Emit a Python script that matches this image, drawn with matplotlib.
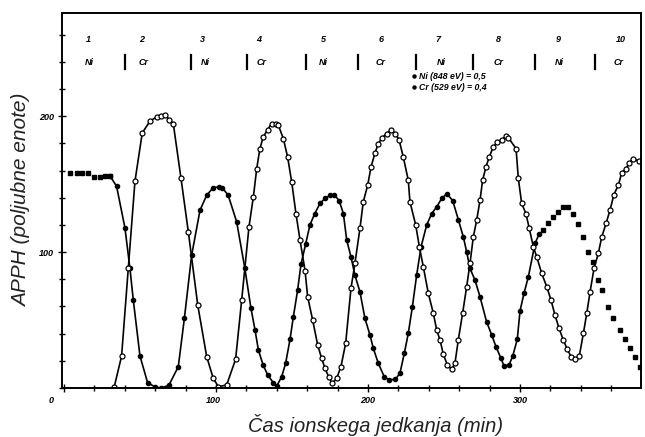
import matplotlib
matplotlib.use("Agg")
import matplotlib.pyplot as plt
import matplotlib.transforms as mtransforms
from matplotlib.ticker import MultipleLocator, FixedLocator

# ---------------- data ----------------
ni_plateau_x = [3.9, 8.3, 11.6, 16.0, 19.9, 23.7, 27.0, 30.3]
ni_plateau_y = [158, 158, 158, 158, 155, 155, 156, 156]

ni_x = [30.3, 34.6, 40.1, 43.4, 45.6, 50.0, 55.0, 60.0, 64.0, 69.0, 75.2, 79.2, 84.0,
        89.5, 93.9, 98.2, 101.9, 104.0, 108.0, 113.6, 119.0, 123.0, 125.7, 127.9,
        131.0, 134.0, 137.7, 140.0, 143.2, 145.8, 148.7, 150.9, 153.7, 155.9, 159.0,
        161.8, 165.0, 168.4, 171.7, 175.0, 177.9, 181.0, 183.8, 186.0, 188.8, 191.4,
        194.7, 198.0, 201.3, 203.5, 206.8, 210.7, 213.8, 218.0, 221.0, 223.9, 226.5,
        229.2, 232.0, 234.9, 238.6, 241.9, 245.2, 248.5, 251.8, 255.7, 259.4, 262.7,
        264.9, 267.1, 270.4, 273.7, 278.0, 281.4, 284.2, 287.3, 289.5, 292.8, 295.2,
        298.2, 300.0, 302.6, 305.5, 309.9, 312.7]
ni_y = [156, 148.5, 117.9, 88.0, 64.7, 23.5, 4.0, 0.7, 0.0, 2.0, 15.7, 51.2, 97.8,
        130.9, 141.9, 147.5, 148.0, 147.5, 142.0, 122.3, 88.0, 58.7, 42.6, 27.9,
        17.0, 9.6, 3.9, 1.5, 8.3, 18.1, 35.8, 52.4, 72.0, 91.0, 106.0,
        120.0, 128.4, 135.8, 139.5, 141.7, 142.0, 138.0, 128.4, 108.8, 96.6, 83.0,
        70.8, 51.2, 39.0, 29.2, 18.1, 8.3, 5.9, 6.4, 10.8, 25.5, 40.2,
        59.8, 83.0, 103.9, 119.9, 128.4, 133.3, 139.5, 143.0, 138.0, 124.0, 111.3,
        100.2, 88.0, 79.4, 67.1, 48.8, 39.0, 30.4, 22.3, 16.2, 17.0, 23.5,
        35.8, 56.6, 69.6, 81.9, 106.4, 113.7]
ni_tail_x = [315.3, 318.6, 321.9, 325.2, 328.5, 331.8, 334.6, 338.4, 341.7, 345.0,
             347.8, 351.5, 353.8, 358.1, 361.4, 365.8, 369.0, 372.4, 375.7, 378.9]
ni_tail_y = [116.2, 121.1, 126.0, 129.7, 133.3, 133.0, 128.4, 121.0, 111.3, 100.2,
             92.9, 79.4, 72.0, 59.8, 51.2, 42.6, 35.8, 29.2, 23.0, 15.7]

cr_x = [33.1, 37.9, 42.3, 46.7, 51.5, 56.6, 61.0, 63.8, 66.4, 69.3, 71.9, 77.0, 81.8,
        88.0, 93.9, 98.2, 101.6, 107.0, 112.9, 116.9, 121.7, 124.6, 126.8, 128.9,
        131.1, 134.0, 136.6, 139.2, 141.0, 144.3, 147.1, 149.8, 152.6, 155.3, 158.6,
        160.3, 163.6, 166.9, 169.5, 171.7, 174.3, 176.5, 179.4, 182.2, 185.3, 188.8,
        191.4, 194.7, 196.9, 199.8, 202.0, 204.6, 206.8, 209.4, 212.3, 215.1, 218.0,
        220.4, 223.2, 226.5, 227.6, 231.4, 233.8, 236.4, 239.7, 243.0, 245.2, 247.4,
        249.5, 252.2, 255.0, 257.2, 259.4, 262.3, 264.9, 267.1, 269.3, 271.5, 273.7,
        275.4, 277.6, 279.8, 282.4, 285.1, 288.0, 290.8, 292.3, 297.4, 298.9, 301.1,
        303.9, 306.1, 308.8, 311.0, 314.3, 317.6, 320.4, 323.0, 325.7, 328.5, 331.1,
        333.6, 336.2, 339.0, 341.7, 343.9, 346.1, 348.7, 351.5, 353.8, 356.6, 359.2,
        361.8, 364.7, 366.9, 369.7, 371.9, 374.5, 378.0]
cr_y = [1.0, 23.5, 88.0, 152.2, 187.7, 196.5, 199.5, 200.0, 200.7, 197.6, 194.6, 154.2, 115.0,
        61.0, 23.0, 7.1, 1.0, 2.2, 21.1, 64.7, 118.6, 140.7, 161.5, 176.2,
        184.8, 190.2, 194.6, 194.6, 193.5, 183.6, 170.1, 151.7, 128.4, 108.8, 86.3,
        67.1, 50.0, 31.6, 21.8, 14.5, 7.8, 3.4, 7.1, 15.7, 32.8, 73.3,
        91.7, 117.4, 137.0, 149.3, 162.7, 173.0, 179.9, 184.3, 187.3, 189.7, 187.3,
        182.8, 170.1, 152.9, 137.0, 119.9, 103.9, 89.2, 69.6, 54.9, 42.6, 35.3,
        25.0, 17.0, 13.7, 18.1, 35.3, 55.4, 74.5, 91.7, 111.3, 123.5, 138.2,
        152.9, 162.7, 170.1, 177.4, 181.1, 182.8, 185.3, 184.3, 176.2, 154.2, 135.8,
        128.4, 117.4, 103.9, 96.5, 84.3, 74.5, 64.7, 53.7, 43.9, 35.3, 28.4,
        23.0, 21.1, 23.5, 40.2, 54.9, 70.8, 88.0, 99.0, 111.3, 121.1, 130.9,
        142.4, 149.3, 158.3, 161.5, 165.7, 168.9, 167.0]

layer_num_x = [15.8, 51.3, 90.8, 128.3, 170.4, 208.6, 246.0, 285.5, 325.0, 366.4]
layer_nums = ["1", "2", "3", "4", "5", "6", "7", "8", "9", "10"]
layer_lbl_x = [17.0, 52.6, 93.0, 130.0, 170.4, 208.0, 248.0, 286.0, 326.0, 365.0]
layer_lbls = ["Ni", "Cr", "Ni", "Cr", "Ni", "Cr", "Ni", "Cr", "Ni", "Cr"]
bar_x = [40.1, 83.6, 120.4, 159.2, 193.4, 231.6, 269.0, 309.9, 349.3]

legend_lines = ["Ni (848 eV) = 0,5", "Cr (529 eV) = 0,4"]

xticks_major = [0, 100, 200, 300]
xtick_labels = ["0", "100", "200", "300"]
yticks_major = [100, 200]
ytick_labels = ["100", "200"]

# ---------------- figure ----------------
fig = plt.figure(figsize=(6.45, 4.37), dpi=100)
ax = fig.add_axes([62 / 645, 1 - 388 / 437, (641 - 62) / 645, (388 - 13) / 437])
ax.set_xlim(-1.3, 379.6)
ax.set_ylim(0, 276)

# Ni: filled dots
ax.plot(ni_plateau_x, ni_plateau_y, ls="none", marker="s", ms=2.6, color="black")
ax.plot(ni_x, ni_y, "-", color="black", lw=1.2, marker="o", ms=3.0,
        mfc="black", mec="black")
ax.plot(ni_tail_x, ni_tail_y, ls="none", marker="s", ms=2.8, color="black")

# Cr: open circles
ax.plot(cr_x, cr_y, "-", color="black", lw=1.2, marker="o", ms=3.6,
        mfc="white", mec="black", mew=0.9)

# layer annotations at top
fnt = dict(fontsize=6.5, fontweight="bold", fontstyle="italic",
           family="Liberation Sans", ha="center", va="center")
for x, t in zip(layer_num_x, layer_nums):
    ax.text(x, 256.5, t, **fnt)
for x, t in zip(layer_lbl_x, layer_lbls):
    ax.text(x, 239.5, t, **fnt)
for x in bar_x:
    ax.plot([x, x], [235, 245], color="black", lw=1.6)

# legend text
ax.plot([230], [229.4], marker="o", ms=2.2, color="black")
ax.plot([230], [221.3], marker="o", ms=2.2, color="black")
ax.text(233.5, 229.4, legend_lines[0], fontsize=6.3, fontweight="bold",
        fontstyle="italic", family="Liberation Sans", va="center", ha="left")
ax.text(233.5, 221.3, legend_lines[1], fontsize=6.3, fontweight="bold",
        fontstyle="italic", family="Liberation Sans", va="center", ha="left")

# ticks
ax.xaxis.set_major_locator(FixedLocator(xticks_major))
ax.set_xticklabels(xtick_labels)
ax.xaxis.set_minor_locator(MultipleLocator(20))
ax.yaxis.set_major_locator(FixedLocator(yticks_major))
ax.set_yticklabels(ytick_labels)
ax.yaxis.set_minor_locator(MultipleLocator(20))
ax.tick_params(which="both", direction="inout", width=1.0, color="black")
ax.tick_params(which="major", length=6, labelsize=6.5, pad=3)
ax.tick_params(which="minor", length=4)
ax.tick_params(top=False, right=False)
for lbl in ax.get_xticklabels() + ax.get_yticklabels():
    lbl.set_fontstyle("italic")
    lbl.set_fontweight("bold")
    lbl.set_family("Liberation Sans")
# the "0" of the x axis sits left of the axis corner in the original
xl = ax.get_xticklabels()
xl[0].set_transform(xl[0].get_transform() +
                    mtransforms.ScaledTranslation(-13 / 100, 0, fig.dpi_scale_trans))
xl[1].set_transform(xl[1].get_transform() +
                    mtransforms.ScaledTranslation(-3 / 100, 0, fig.dpi_scale_trans))

for sp in ax.spines.values():
    sp.set_linewidth(1.4)
    sp.set_color("black")

fig.text(376 / 645, 1 - 432 / 437, "Čas ionskega jedkanja (min)", fontsize=14.5,
         fontstyle="italic", family="Liberation Sans", color="#222222",
         ha="center", va="baseline")
fig.text(22 / 645, 1 - 200 / 437, "APPH (poljubne enote)", fontsize=15,
         fontstyle="italic", family="Liberation Sans", color="#222222",
         ha="center", va="center", rotation=90)

fig.savefig("out.png", dpi=100)
